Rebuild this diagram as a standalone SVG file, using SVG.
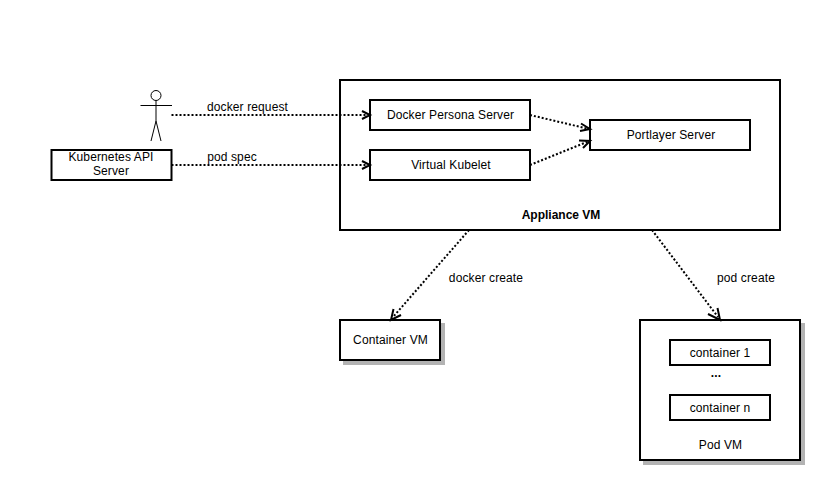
<svg xmlns="http://www.w3.org/2000/svg" width="838" height="480" viewBox="0 0 838 480">
<style>
text{font-family:"Liberation Sans",Arial,sans-serif;font-size:12px;fill:#000;text-anchor:middle;letter-spacing:.12px}
.b{fill:#fff;stroke:#000;stroke-width:2}
.s{fill:#b3b3b3;stroke:#b3b3b3;stroke-width:2}
.l{fill:none;stroke:#000;stroke-width:2;stroke-dasharray:2 2}
.a{fill:none;stroke:#000;stroke-width:2;stroke-miterlimit:10}
.p{fill:none;stroke:#000;stroke-width:1}
</style>
<rect width="838" height="480" fill="#fff"/>
<g id="appliance-vm"><rect class="b" x="340" y="80" width="440" height="150"/><text x="561" y="219" style="font-weight:bold;letter-spacing:0">Appliance VM</text></g>
<g id="actor"><circle class="p" cx="156" cy="95.500" r="5"/><path class="p" d="M156 100.500V121M140.500 105.500H172M156 121L151 141M156 121L161 141"/></g>
<g id="k8s"><rect class="b" x="51.500" y="150" width="120" height="30"/><text x="111" y="161">Kubernetes API</text><text x="111" y="175">Server</text></g>
<g id="docker-persona"><rect class="b" x="370" y="100" width="160" height="30"/><text x="450.500" y="119">Docker Persona Server</text></g>
<g id="virtual-kubelet"><rect class="b" x="370" y="150" width="160" height="30"/><text x="451" y="169">Virtual Kubelet</text></g>
<g id="portlayer"><rect class="b" x="590" y="120" width="160" height="30"/><text x="671" y="139">Portlayer Server</text></g>
<g id="container-vm"><rect class="s" x="344" y="324" width="100" height="40"/><rect class="b" x="340" y="320" width="100" height="40"/><text x="390.500" y="344">Container VM</text></g>
<g id="pod-vm"><rect class="s" x="644" y="324" width="160" height="140"/><rect class="b" x="640" y="320" width="160" height="140"/><text x="720.500" y="449">Pod VM</text></g>
<g id="container-1"><rect class="b" x="670" y="340" width="100" height="25"/><text x="720" y="357">container 1</text></g>
<g id="dots"><text x="716" y="377" style="font-weight:bold">...</text></g>
<g id="container-n"><rect class="b" x="670" y="395" width="100" height="25"/><text x="720" y="412">container n</text></g>
<g id="connectors">
<path class="l" d="M171.500 115H367"/><path class="a" d="M362 111L370 115L362 119"/>
<path class="l" d="M171.500 165H367"/><path class="a" d="M362 161L370 165L362 169"/>
<path class="l" d="M530 115L587 128.500"/><path class="a" d="M581 123.500L590 129L580 131"/>
<path class="l" d="M530 165L587 142"/><path class="a" d="M579 140.500L590 141L583 148"/>
<path class="l" d="M469 230L393 317"/><path class="a" d="M393.500 309L391 320L401 315"/>
<path class="l" d="M652 230L718 317"/><path class="a" d="M708 314L720 320L717.500 308"/>
</g>
<g id="labels">
<text x="247.500" y="111">docker request</text>
<text x="232" y="161">pod spec</text>
<text x="486" y="282">docker create</text>
<text x="746" y="282">pod create</text>
</g>
</svg>
